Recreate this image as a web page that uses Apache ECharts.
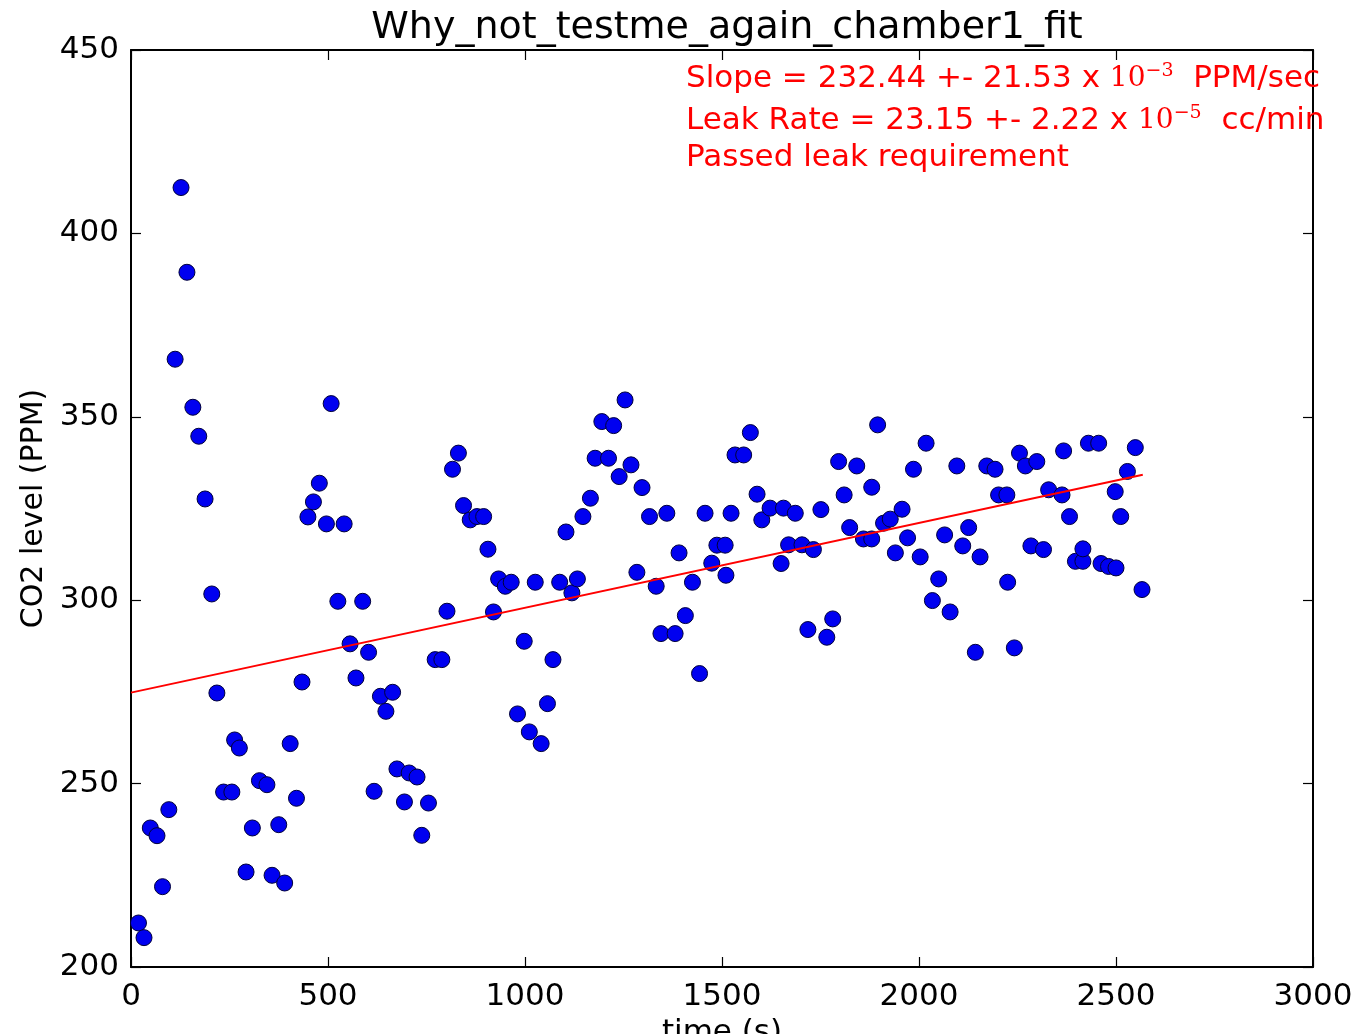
<!DOCTYPE html>
<html>
<head>
<meta charset="utf-8">
<title>Why_not_testme_again_chamber1_fit</title>
<script src="https://cdn.jsdelivr.net/npm/echarts@6/dist/echarts.min.js"></script>
<style>
  html, body { margin: 0; padding: 0; background: #ffffff; overflow: hidden; }
  #chart { width: 1360px; height: 1034px; }
</style>
</head>
<body>
<div id="chart"></div>
<script>
// Chamber 1 CO2 readings (seconds since start, PPM)
const timeSec = [
  19, 33, 49, 66, 80, 96, 112, 127, 142, 157, 172, 188, 205, 218, 235, 256, 263, 275, 292, 308,
  326, 345, 358, 375, 390, 404, 420, 434, 449, 463, 478, 496, 508, 525, 541, 556, 571, 588, 603, 617,
  633, 647, 664, 675, 694, 706, 726, 738, 755, 772, 789, 802, 816, 831, 844, 861, 878, 895, 906, 920,
  933, 950, 965, 981, 998, 1011, 1026, 1041, 1057, 1071, 1088, 1104, 1119, 1133, 1147, 1166, 1178, 1195, 1212, 1225,
  1239, 1254, 1269, 1284, 1297, 1316, 1333, 1345, 1360, 1381, 1391, 1407, 1425, 1443, 1457, 1474, 1487, 1508, 1510, 1523,
  1533, 1555, 1572, 1589, 1601, 1622, 1650, 1656, 1669, 1686, 1703, 1718, 1732, 1751, 1766, 1781, 1796, 1810, 1824, 1842,
  1859, 1880, 1880, 1895, 1910, 1927, 1940, 1957, 1971, 1986, 2003, 2018, 2034, 2050, 2065, 2079, 2096, 2111, 2126, 2143,
  2155, 2172, 2193, 2202, 2223, 2225, 2242, 2255, 2270, 2284, 2299, 2316, 2329, 2363, 2367, 2382, 2397, 2416, 2416, 2430,
  2456, 2462, 2481, 2498, 2500, 2512, 2529, 2549, 2566
];
const co2ppm = [
  212, 208, 237.9, 235.8, 221.9, 242.9, 365.7, 412.5, 389.4, 352.6, 344.7, 327.6, 301.7, 274.7, 247.7, 247.7, 261.9, 259.7, 225.9, 237.9,
  250.8, 249.7, 225, 238.8, 222.9, 260.9, 246, 277.7, 322.7, 326.8, 331.9, 320.8, 353.6, 299.7, 320.8, 288.1, 278.8, 299.7, 285.8, 247.9,
  273.8, 269.7, 274.9, 254, 245, 252.9, 251.8, 235.9, 244.7, 283.8, 283.8, 297, 335.7, 340.1, 325.8, 321.9, 322.8, 322.8, 313.9, 296.8,
  305.8, 303.8, 304.9, 269, 288.8, 264.1, 304.9, 260.9, 271.8, 283.8, 304.9, 318.6, 302, 305.8, 322.8, 327.8, 338.7, 348.7, 338.7, 347.6,
  333.7, 354.6, 336.9, 307.6, 330.7, 322.8, 303.8, 290.9, 323.7, 290.9, 312.9, 295.8, 304.9, 280, 323.7, 310.1, 315, 315, 306.8, 323.7,
  339.6, 339.6, 345.7, 328.9, 321.9, 325.1, 310, 325.1, 315.1, 323.7, 315.1, 292, 313.8, 324.7, 289.9, 294.9, 337.8, 328.7, 319.8, 336.6,
  316.7, 316.7, 330.8, 347.8, 321, 322.1, 312.9, 324.8, 317, 335.7, 311.8, 342.8, 299.9, 305.8, 317.8, 296.8, 336.6, 314.8, 319.8, 285.8,
  311.8, 336.6, 335.7, 328.7, 328.7, 304.9, 287, 340.1, 336.6, 314.8, 337.8, 313.8, 330.1, 328.7, 340.7, 322.8, 310.6, 310.6, 314, 342.8,
  342.8, 310, 309.2, 329.6, 308.8, 322.8, 335.1, 341.6, 302.9
];

// Linear fit drawn over the readings
const fitIntercept = 274.8;   // PPM at t = 0
const fitSlope = 0.02313;     // PPM per second
const fitEndSec = 2568;

// Axis ticks
const xTicks = [0, 500, 1000, 1500, 2000, 2500, 3000];
const yTicks = [200, 250, 300, 350, 400, 450];

// Annotation text
const titleText = 'Why_not_testme_again_chamber1_fit';
const slopeLine = ['Slope = 232.44 +- 21.53 x ', '10', '\u22123', '  PPM/sec'];
const leakLine = ['Leak Rate = 23.15 +- 2.22 x ', '10', '\u22125', '  cc/min'];
const statusLine = 'Passed leak requirement';

const FONT = 'DejaVu Sans';
const RED = '#ff0000';
const points = timeSec.map((t, i) => [t, co2ppm[i]]);
const fitLine = [0, fitEndSec].map(t => [t, fitIntercept + fitSlope * t]);

const chart = echarts.init(document.getElementById('chart'), null, { renderer: 'canvas' });

function axisCommon(min, max, interval, showLabels) {
  return {
    type: 'value', min, max, interval,
    axisLine: { show: true, onZero: false, lineStyle: { color: '#000', width: 2 } },
    axisTick: { show: true, inside: true, length: 10, lineStyle: { color: '#000', width: 1.2 } },
    axisLabel: {
      show: showLabels, color: '#000', fontFamily: FONT, fontSize: 31, margin: 12,
      formatter: v => String(v)
    },
    splitLine: { show: false }
  };
}

const richMath = {
  txt: { fontFamily: FONT, fontSize: 31, fill: RED },
  ten: { fontFamily: 'DejaVu Serif', fontSize: 28, fill: RED },
  sup: { fontFamily: 'DejaVu Serif', fontSize: 19, fill: RED, verticalAlign: 'top', padding: [0, 0, 14, 0] }
};

function mathLine(parts) {
  return '{txt|' + parts[0] + '}{ten|' + parts[1] + '}{sup|' + parts[2] + '}{txt|' + parts[3] + '}';
}

chart.setOption({
  backgroundColor: '#ffffff',
  animation: false,
  grid: { left: 131, right: 47, top: 50, bottom: 67, containLabel: false, outerBoundsMode: 'none' },
  xAxis: [
    Object.assign(axisCommon(xTicks[0], xTicks[xTicks.length - 1], 500, true), {
      position: 'bottom',
      name: 'time (s)', nameLocation: 'middle', nameGap: 50,
      nameTextStyle: { color: '#000', fontFamily: FONT, fontSize: 31 },
      axisLabel: { show: true, color: '#000', fontFamily: FONT, fontSize: 31, margin: 14, formatter: v => String(v) }
    }),
    Object.assign(axisCommon(xTicks[0], xTicks[xTicks.length - 1], 500, false), { position: 'top' })
  ],
  yAxis: [
    Object.assign(axisCommon(yTicks[0], yTicks[yTicks.length - 1], 50, true), {
      position: 'left',
      name: 'CO2 level (PPM)', nameLocation: 'middle', nameGap: 82,
      nameTextStyle: { color: '#000', fontFamily: FONT, fontSize: 30 }
    }),
    Object.assign(axisCommon(yTicks[0], yTicks[yTicks.length - 1], 50, false), { position: 'right' })
  ],
  title: {
    text: titleText, left: 722, top: 4, textAlign: 'center',
    textStyle: { color: '#000', fontFamily: FONT, fontSize: 38, fontWeight: 'normal' }
  },
  graphic: [
    { type: 'text', left: 686, top: 62, z: 100,
      style: { text: mathLine(slopeLine), rich: richMath, font: '31px ' + FONT, fill: RED } },
    { type: 'text', left: 686, top: 104, z: 100,
      style: { text: mathLine(leakLine), rich: richMath, font: '31px ' + FONT, fill: RED } },
    { type: 'text', left: 686, top: 142, z: 100,
      style: { text: statusLine, fill: RED, font: '31px ' + FONT } }
  ],
  series: [
    {
      type: 'scatter', xAxisIndex: 0, yAxisIndex: 0,
      data: points, symbol: 'circle', symbolSize: 16,
      itemStyle: { color: '#0000f0', borderColor: '#00003a', borderWidth: 1, opacity: 1 },
      z: 2
    },
    {
      type: 'line', xAxisIndex: 0, yAxisIndex: 0,
      data: fitLine, showSymbol: false, symbol: 'none',
      lineStyle: { color: RED, width: 2 },
      z: 3
    }
  ]
});
</script>
</body>
</html>
